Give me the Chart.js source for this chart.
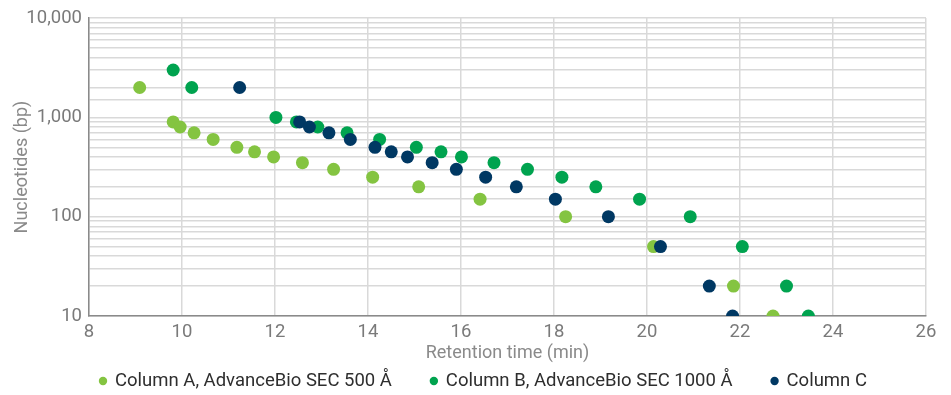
<!DOCTYPE html>
<html>
<head>
<meta charset="utf-8">
<script src="https://cdn.jsdelivr.net/npm/chart.js@4.4.0/dist/chart.umd.js"></script>
<style>
  html, body { margin: 0; padding: 0; background: #fff; }
  #wrap { width: 951px; height: 395px; }
</style>
</head>
<body>
<div id="wrap"><canvas id="chart" width="951" height="395"></canvas></div>
<script>
// retention time (min) vs fragment size (bp) for each column
const seriesNames = [
  'Column A, AdvanceBio SEC 500 Å',
  'Column B, AdvanceBio SEC 1000 Å',
  'Column C'
];
const colorsBySeries = ['#84c441', '#00a34f', '#003863'];

const colATime = [9.09, 9.81, 9.96, 10.26, 10.67, 11.18, 11.56, 11.97, 12.59, 13.26, 14.10, 15.09, 16.41, 18.25, 20.14, 21.86, 22.71];
const colASize = [2000, 900, 800, 700, 600, 500, 450, 400, 350, 300, 250, 200, 150, 100, 50, 20, 10];

const colBTime = [9.81, 10.21, 12.02, 12.46, 12.92, 13.55, 14.25, 15.04, 15.57, 16.01, 16.71, 17.43, 18.17, 18.90, 19.84, 20.93, 22.05, 23.00, 23.47];
const colBSize = [3000, 2000, 1000, 900, 800, 700, 600, 500, 450, 400, 350, 300, 250, 200, 150, 100, 50, 20, 10];

const colCTime = [11.24, 12.53, 12.74, 13.16, 13.62, 14.15, 14.50, 14.85, 15.38, 15.90, 16.53, 17.19, 18.03, 19.17, 20.29, 21.34, 21.84];
const colCSize = [2000, 900, 800, 700, 600, 500, 450, 400, 350, 300, 250, 200, 150, 100, 50, 20, 10];

const xTicks = [8, 10, 12, 14, 16, 18, 20, 22, 24, 26];
const yLabelled = [10, 100, 1000, 10000];

const toPoints = (xs, ys) => xs.map((x, i) => ({ x: x, y: ys[i] }));
const allTimes = [colATime, colBTime, colCTime];
const allSizes = [colASize, colBSize, colCSize];

const FONT = 'Roboto, "Noto Sans", sans-serif';

const datasets = seriesNames.map((name, i) => ({
  label: name,
  data: toPoints(allTimes[i], allSizes[i]),
  backgroundColor: colorsBySeries[i],
  borderWidth: 0,
  pointRadius: 6.5,
  pointHoverRadius: 6.5,
  // Column C sits on top where dots overlap
  order: seriesNames.length - i
}));

// one-row legend under the axis title, dot + label per dataset
const rowLegend = {
  id: 'rowLegend',
  afterDraw(chart) {
    const ctx = chart.ctx;
    const y = 381;
    let x = 103;
    ctx.save();
    ctx.font = '18.5px ' + FONT;
    ctx.textBaseline = 'middle';
    ctx.textAlign = 'left';
    chart.data.datasets.forEach(ds => {
      ctx.fillStyle = ds.backgroundColor;
      ctx.beginPath();
      ctx.arc(x, y, 4.2, 0, Math.PI * 2);
      ctx.fill();
      ctx.fillStyle = '#2e2e2e';
      ctx.fillText(ds.label, x + 12, y);
      x += 12 + ctx.measureText(ds.label).width + 42;
    });
    ctx.restore();
  }
};

new Chart(document.getElementById('chart').getContext('2d'), {
  type: 'scatter',
  data: { datasets: datasets },
  plugins: [rowLegend],
  options: {
    responsive: false,
    animation: false,
    layout: { padding: { top: 17, right: 25, left: 0, bottom: 27 } },
    plugins: {
      tooltip: { enabled: false },
      legend: { display: false }
    },
    scales: {
      x: {
        type: 'linear',
        min: 8,
        max: 26,
        afterBuildTicks: scale => { scale.ticks = xTicks.map(v => ({ value: v })); },
        ticks: { color: '#7a7a7a', font: { family: FONT, size: 18.5 }, padding: 5 },
        grid: { color: '#d9d9d9', lineWidth: 1.5, drawTicks: false },
        border: { color: '#8a8a8a', width: 1.5 },
        title: {
          display: true,
          text: 'Retention time (min)',
          color: '#8a8a8a',
          font: { family: FONT, size: 18 },
          padding: { top: 0, bottom: 4 }
        },
        afterFit: scale => { scale.height = 52; }
      },
      y: {
        type: 'logarithmic',
        min: 10,
        max: 10000,
        ticks: {
          autoSkip: false,
          color: '#7a7a7a',
          font: { family: FONT, size: 18.5 },
          padding: 7,
          callback: v => yLabelled.includes(v) ? v.toLocaleString('en-US') : ''
        },
        grid: { color: '#d9d9d9', lineWidth: 1.5, drawTicks: false },
        border: { color: '#8a8a8a', width: 1.5 },
        title: {
          display: true,
          text: 'Nucleotides (bp)',
          color: '#8a8a8a',
          font: { family: FONT, size: 18 },
          padding: { top: 12, bottom: 0 }
        },
        afterFit: scale => { scale.width = 89; }
      }
    }
  }
});
</script>
</body>
</html>
